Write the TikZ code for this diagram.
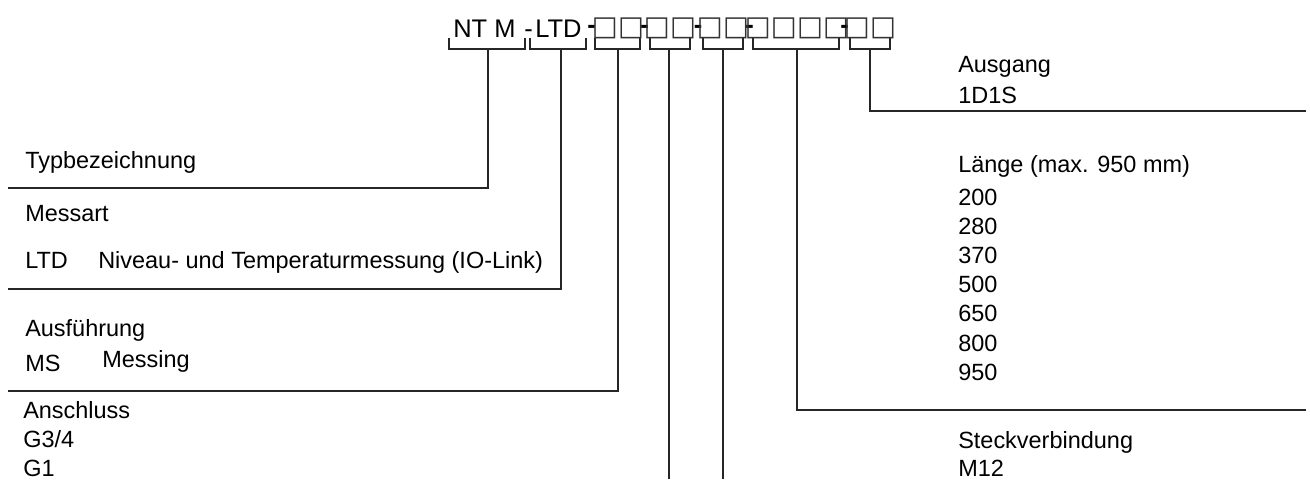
\documentclass[tikz,border=0pt]{standalone}
\usepackage{fontspec}
\setmainfont{Liberation Sans}
\newfontfamily\symfont{DejaVu Sans}
\newcommand{\sqbox}{□}
\newcommand{\sqgap}{\kern0.1pt}
\begin{document}
\begin{tikzpicture}[x=0.75pt,y=-0.75pt,
    lbl/.style={anchor=base west,inner sep=0pt,font=\fontsize{17.6}{20}\selectfont},
    hd/.style={anchor=base west,inner sep=0pt,font=\fontsize{19.1}{22}\selectfont},
    ph/.style={anchor=base,inner sep=0pt,font=\symfont\fontsize{20.6}{22}\selectfont,text=black!80},
    dsh/.style={anchor=base,inner sep=0pt,font=\fontsize{19.1}{22}\selectfont\bfseries},
    ln/.style={line width=1.1pt,black!85}]
    \useasboundingbox (0,0) rectangle (1310,479);

    % type code
    \node[hd] (typ) at (453,37.5) {NT M};
    \node[hd] (d0) at (524,37.5) {-};
    \node[hd] (art) at (535,37.5) {LTD};
    \node[dsh] (d1) at (591.5,33) {-};
    \node[ph] (aus) at (618,35.5) {\sqbox\sqgap\sqbox};
    \node[dsh] (d2) at (644.5,33) {-};
    \node[ph] (ans) at (670,35.5) {\sqbox\sqgap\sqbox};
    \node[dsh] (d3) at (698,33) {-};
    \node[ph] (stk) at (723,35.5) {\sqbox\sqgap\sqbox};
    \node[dsh] (d4) at (749.5,33) {-};
    \node[ph] (len) at (797,35.5) {\sqbox\sqgap\sqbox\sqgap\sqbox\sqgap\sqbox};
    \node[dsh] (d5) at (844.5,33) {-};
    \node[ph] (out) at (870,35.5) {\sqbox\sqgap\sqbox};

    % brackets
    \draw[ln] (449,38) -- (449,49) -- (525,49) -- (525,38);
    \draw[ln] (530,38) -- (530,49) -- (586,49) -- (586,38);
    \draw[ln] (595,38) -- (595,49) -- (640,49) -- (640,38);
    \draw[ln] (650,38) -- (650,49) -- (690,49) -- (690,38);
    \draw[ln] (703,38) -- (703,49) -- (743,49) -- (743,38);
    \draw[ln] (753,38) -- (753,49) -- (839,49) -- (839,38);
    \draw[ln] (850,38) -- (850,49) -- (890,49) -- (890,38);

    \coordinate (typB) at (488,49); \coordinate (typE) at (8,188);
    \coordinate (artB) at (561,49); \coordinate (artE) at (8,289);
    \coordinate (ausB) at (618,49); \coordinate (ausE) at (8,391);
    \coordinate (ansB) at (669,49); \coordinate (ansE) at (669,479);
    \coordinate (stkB) at (723,49); \coordinate (stkE) at (723,479);
    \coordinate (lenB) at (797,49); \coordinate (lenE) at (1306,410);
    \coordinate (outB) at (870,49); \coordinate (outE) at (1306,111);

    \draw[ln] (typB) |- (typE);
    \draw[ln] (artB) |- (artE);
    \draw[ln] (ausB) |- (ausE);
    \draw[ln] (ansB) -- (ansE);
    \draw[ln] (stkB) -- (stkE);
    \draw[ln] (lenB) |- (lenE);
    \draw[ln] (outB) |- (outE);

    % left side
    \node[lbl] (typL) at (25,168) {Typbezeichnung};
    \node[lbl] (artL) at (25,221) {Messart};
    \node[lbl] (artA) at (25,268) {LTD};
    \node[lbl] (artT) at (98,268) {Niveau- und Temperaturmessung (IO-Link)};
    \node[lbl] (ausL) at (25,336) {Ausführung};
    \node[lbl] (ausA) at (25,371) {MS};
    \node[lbl] (ausT) at (102,367) {Messing};
    \node[lbl] (ansL) at (23,418) {Anschluss};
    \node[lbl] (ans1) at (23,447) {G3/4};
    \node[lbl] (ans2) at (23,476) {G1};

    % right side
    \node[lbl] (outL) at (958,72) {Ausgang};
    \node[lbl] (out1) at (958,103) {1D1S};
    \node[lbl] (lenL) at (958,172) {Länge (max. 950 mm)};
    \foreach \v [count=\i] in {200,280,370,500,650,800,950}
        \node[lbl] (len\i) at (958,{205+29.2*(\i-1)}) {\v};
    \node[lbl] (stkL) at (958,448) {Steckverbindung};
    \node[lbl] (stk1) at (958,476) {M12};
\end{tikzpicture}
\end{document}
